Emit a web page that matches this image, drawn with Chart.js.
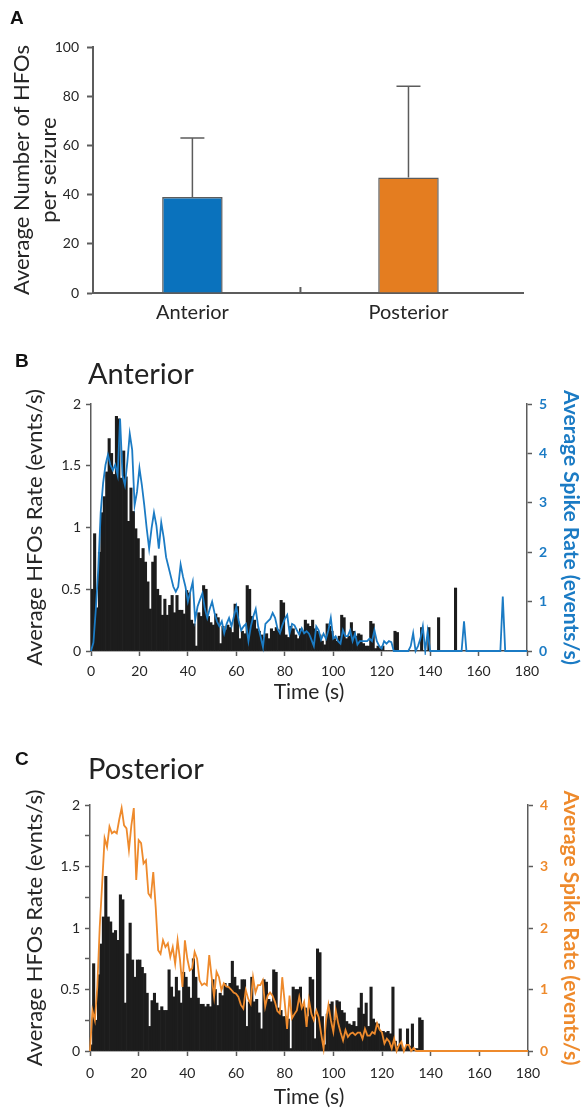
<!DOCTYPE html>
<html>
<head>
<meta charset="utf-8">
<script src="https://cdn.jsdelivr.net/npm/chart.js@4.4.1/dist/chart.umd.min.js"></script>
<style>
  html, body { margin: 0; padding: 0; background: #fff; }
  #page { position: relative; width: 582px; height: 1111px; overflow: hidden; }
  canvas { position: absolute; left: 0; }
  .letter { position: absolute; font: bold 19px "Liberation Sans", Arial, sans-serif; color: #111; line-height: 19px; }
  .subtitle { position: absolute; font: 29px Lato, sans-serif; color: #222; line-height: 29px; }
</style>
</head>
<body>
<div id="page">
  <canvas id="chartA" width="582" height="340" style="top:0"></canvas>
  <canvas id="chartB" width="582" height="380" style="top:340px"></canvas>
  <canvas id="chartC" width="582" height="391" style="top:720px"></canvas>
  <div class="letter" style="left:10px;top:8px">A</div>
  <div class="letter" style="left:15px;top:351px">B</div>
  <div class="letter" style="left:15px;top:749px">C</div>
  <div class="subtitle" style="left:88px;top:358px">Anterior</div>
  <div class="subtitle" style="left:88px;top:753px">Posterior</div>
</div>
<script>
// Panel A — mean HFOs per seizure
const regions = ['Anterior', 'Posterior'];
const meanHFOs = [39, 47];
const sdHFOs = [24, 37];

// Panels B/C — per-second histogram of HFO rate (left axis) and spike rate line (right axis)
const hfoAnterior = [
  0.50, 0.95, 0.35, 0.80, 1.12, 1.25, 1.45, 1.72, 1.60, 1.43,
  1.90, 1.88, 1.40, 1.62, 1.41, 1.05, 1.32, 1.13, 0.99, 0.91,
  0.75, 0.83, 0.72, 0.56, 0.34, 0.72, 0.77, 0.50, 0.45, 0.29,
  0.42, 0.29, 0.37, 0.45, 0.31, 0.45, 0.33, 0.33, 0.30, 0.49,
  0.47, 0.25, 0.22, 0.04, 0.31, 0.28, 0.53, 0.50, 0.28, 0.23,
  0.21, 0.30, 0.27, 0.06, 0.20, 0.17, 0.21, 0.19, 0.15, 0.38,
  0.36, 0.10, 0.16, 0.14, 0.53, 0.50, 0.28, 0.25, 0.18, 0.16,
  0.13, 0.11, 0.14, 0.10, 0.18, 0.16, 0.19, 0.17, 0.41, 0.39,
  0.13, 0.11, 0.20, 0.18, 0.13, 0.10, 0.18, 0.16, 0.25, 0.22,
  0.20, 0.25, 0.18, 0.16, 0.13, 0.08, 0.05, 0.22, 0.20, 0.16,
  0.10, 0.08, 0.12, 0.29, 0.27, 0.10, 0.12, 0.23, 0.16, 0.12,
  0.14, 0.13, 0.06, 0.04, 0.04, 0.24, 0.22, 0.02, 0.04, 0.02,
  0.04, 0, 0, 0, 0, 0.16, 0.15, 0, 0, 0,
  0, 0, 0, 0, 0, 0, 0.19, 0, 0, 0.19,
  0, 0, 0, 0.27, 0, 0, 0, 0, 0, 0,
  0.51, 0, 0, 0, 0, 0, 0, 0, 0, 0,
  0, 0, 0, 0, 0, 0, 0, 0, 0, 0,
  0, 0, 0, 0, 0, 0, 0, 0, 0, 0
];
const spikeAnterior = [
  0, 0.17, 0.85, 1.66, 2.80, 3.40, 3.77, 3.97, 3.77, 3.66,
  3.77, 3.56, 4.70, 3.56, 3.36, 3.83, 4.40, 4.07, 2.95, 3.22,
  3.70, 3.36, 2.95, 2.48, 2.07, 2.48, 2.80, 2.54, 2.07, 2.60,
  2.30, 1.90, 1.70, 1.50, 1.30, 1.20, 1.30, 1.75, 1.50, 1.30,
  1.00, 1.20, 1.40, 0.63, 0.90, 1.04, 1.17, 0.86, 0.67, 0.85,
  1.00, 0.77, 0.60, 0.50, 0.60, 0.36, 0.55, 0.67, 0.50, 0.70,
  0.90, 0.60, 0.42, 0.50, 0.55, 0.20, 0.50, 0.70, 0.85, 0.50,
  0.30, 0.08, 0.55, 0.60, 0.65, 0.77, 0.67, 0.45, 0.36, 0.52,
  0.65, 0.73, 0.36, 0.55, 0.52, 0.42, 0.33, 0.46, 0.36, 0.40,
  0.35, 0.23, 0.10, 0.50, 0.42, 0.23, 0.35, 0.25, 0.42, 0.67,
  0.25, 0.30, 0.20, 0.15, 0.42, 0.30, 0.30, 0.42, 0.20, 0.35,
  0.13, 0.20, 0.20, 0.20, 0.20, 0.25, 0.20, 0.42, 0.20, 0.10,
  0.05, 0.20, 0.15, 0.20, 0.18, 0, 0, 0, 0, 0,
  0, 0, 0.10, 0.36, 0, 0.10, 0.25, 0.50, 0, 0.40,
  0, 0, 0, 0, 0, 0, 0, 0, 0, 0,
  0, 0, 0, 0, 0.60, 0, 0, 0, 0, 0,
  0, 0, 0, 0, 0, 0, 0, 0, 0, 0,
  1.10, 0, 0, 0, 0, 0, 0, 0, 0, 0,
  0
];
const hfoPosterior = [
  0.05, 0.71, 0.25, 0.62, 0.87, 1.09, 1.42, 1.09, 1.05, 0.96,
  0.98, 0.90, 1.27, 1.23, 0.39, 0.79, 1.04, 0.74, 0.60, 0.74,
  0.74, 0.68, 0.63, 0.47, 0.20, 0.41, 0.47, 0.39, 0.33, 0.36,
  0.33, 0.33, 0.66, 0.52, 0.44, 0.60, 0.49, 0.39, 0.64, 0.60,
  0.52, 0.43, 0.75, 0.60, 0.43, 0.38, 0.38, 0.36, 0.38, 0.36,
  0.58, 0.50, 0.37, 0.47, 0.45, 0.55, 0.52, 0.55, 0.73, 0.60,
  0.53, 0.50, 0.58, 0.58, 0.20, 0.40, 0.60, 0.40, 0.42, 0.31,
  0.18, 0.58, 0.56, 0.42, 0.40, 0.66, 0.64, 0.35, 0.33, 0.28,
  0.28, 0.26, 0.02, 0.52, 0.50, 0.50, 0.52, 0.37, 0.35, 0.28,
  0.60, 0.58, 0.10, 0.83, 0.80, 0.28, 0.05, 0.30, 0.38, 0.40,
  0.25, 0.41, 0.40, 0.33, 0.31, 0.24, 0.22, 0.21, 0.24, 0.20,
  0.35, 0.47, 0.30, 0.39, 0.20, 0.52, 0.26, 0.23, 0.22, 0.16,
  0.16, 0.15, 0.16, 0.14, 0.52, 0.08, 0.04, 0.18, 0.02, 0.02,
  0.18, 0.04, 0.22, 0.02, 0.02, 0.27, 0.25, 0, 0, 0,
  0, 0, 0, 0, 0, 0, 0, 0, 0, 0,
  0, 0, 0, 0, 0, 0, 0, 0, 0, 0,
  0, 0, 0, 0, 0, 0, 0, 0, 0, 0,
  0, 0, 0, 0, 0, 0, 0, 0, 0, 0
];
const spikePosterior = [
  0, 0.66, 0.50, 1.04, 2.02, 2.72, 3.46, 3.32, 3.65, 3.54,
  3.57, 3.54, 3.76, 3.95, 3.67, 3.62, 3.27, 3.67, 3.95, 2.78,
  3.43, 3.38, 3.05, 3.10, 2.56, 2.50, 2.91, 2.34, 1.64, 1.58,
  1.80, 1.69, 1.75, 1.53, 1.69, 1.42, 1.80, 1.48, 1.04, 1.80,
  1.50, 1.31, 1.34, 1.61, 1.50, 1.15, 1.07, 1.10, 1.07, 1.56,
  1.20, 0.88, 1.29, 1.20, 0.99, 1.10, 1.05, 1.04, 1.00, 0.95,
  0.93, 0.88, 0.75, 0.69, 0.99, 0.85, 0.77, 1.20, 0.95, 1.07,
  1.07, 1.15, 0.72, 0.90, 0.95, 0.90, 0.80, 0.65, 0.61, 1.20,
  0.80, 0.36, 0.90, 0.53, 0.60, 0.66, 0.88, 0.70, 0.80, 0.39,
  0.83, 0.60, 0.50, 0.66, 0.55, 0.28, 0.04, 0.50, 0.75, 0.50,
  0.31, 0.66, 0.45, 0.30, 0.17, 0.34, 0.23, 0.28, 0.30, 0.26,
  0.30, 0.30, 0.20, 0.36, 0.25, 0.25, 0.31, 0.28, 0.45, 0.35,
  0.30, 0.12, 0.20, 0.15, 0.04, 0.20, 0, 0.10, 0.15, 0,
  0.10, 0.10, 0, 0.05, 0, 0, 0, 0, 0, 0,
  0, 0, 0, 0, 0, 0, 0, 0, 0, 0,
  0, 0, 0, 0, 0, 0, 0, 0, 0, 0,
  0, 0, 0, 0, 0, 0, 0, 0, 0, 0,
  0, 0, 0, 0, 0, 0, 0, 0, 0, 0,
  0
];

const FONT = 'Lato, "Open Sans", sans-serif';
const TEXT = '#262626';
const AXIS = '#5c5c5c';
const BLUE = '#1b7bc4';
const ORANGE = '#ee8a2c';

// error bar (mean + SD) and the small divider tick between categories
const errorBars = {
  id: 'errorBars',
  afterDatasetsDraw(chart) {
    const { ctx, scales: { x, y } } = chart;
    ctx.save();
    ctx.strokeStyle = AXIS;
    ctx.lineWidth = 1.5;
    meanHFOs.forEach((m, i) => {
      const px = x.getPixelForValue(i);
      const yTop = y.getPixelForValue(m + sdHFOs[i]);
      ctx.beginPath();
      ctx.moveTo(px, y.getPixelForValue(m));
      ctx.lineTo(px, yTop);
      ctx.moveTo(px - 12, yTop);
      ctx.lineTo(px + 12, yTop);
      ctx.stroke();
    });
    const mid = x.getPixelForValue(0.5);
    ctx.lineWidth = 2;
    ctx.beginPath();
    ctx.moveTo(mid, y.bottom);
    ctx.lineTo(mid, y.bottom - 6);
    ctx.stroke();
    ctx.restore();
  }
};

new Chart(document.getElementById('chartA'), {
  type: 'bar',
  data: {
    datasets: [{
      data: meanHFOs.map((m, i) => ({ x: i, y: m })),
      backgroundColor: ['#0a72bd', '#e47d20'],
      borderColor: AXIS,
      borderWidth: 1.5,
      borderSkipped: 'bottom',
      barPercentage: 0.28,
      categoryPercentage: 1
    }]
  },
  options: {
    responsive: false,
    animation: false,
    layout: { padding: { top: 47, right: 59 } },
    plugins: { legend: { display: false }, tooltip: { enabled: false } },
    scales: {
      x: {
        type: 'linear', min: -0.46, max: 1.53, offset: false,
        grid: { display: false, drawTicks: false },
        border: { color: AXIS, width: 2 },
        afterBuildTicks: s => { s.ticks = regions.map((r, i) => ({ value: i })); },
        ticks: { color: TEXT, font: { family: FONT, size: 20 }, padding: 8, callback: v => regions[v] },
        afterFit: s => { s.height = 47; }
      },
      y: {
        min: 0, max: 100,
        ticks: { stepSize: 20, color: TEXT, font: { family: FONT, size: 14 }, padding: 8 },
        grid: { drawOnChartArea: false, tickLength: 6, tickColor: AXIS, tickWidth: 2 },
        border: { color: AXIS, width: 2 },
        title: {
          display: true,
          text: ['Average Number of HFOs', 'per seizure'],
          color: TEXT,
          font: { family: FONT, size: 22, lineHeight: 1.2 },
          padding: { top: 9, bottom: 0 }
        },
        afterFit: s => { s.width = 93; }
      }
    }
  },
  plugins: [errorBars]
});

function makeTrace(id, hfo, spike, o) {
  return new Chart(document.getElementById(id), {
    type: 'bar',
    data: {
      datasets: [
        {
          type: 'line',
          data: spike.map((v, i) => ({ x: i, y: v })),
          yAxisID: 'y1',
          borderColor: o.color,
          borderWidth: 1.8,
          pointRadius: 0,
          tension: 0,
          clip: 4,
          order: 0
        },
        {
          type: 'bar',
          data: hfo.map((v, i) => ({ x: i + 0.5, y: v })),
          yAxisID: 'y',
          backgroundColor: '#1c1c1c',
          barPercentage: 1,
          categoryPercentage: 1,
          order: 1
        }
      ]
    },
    options: {
      responsive: false,
      animation: false,
      layout: { padding: { top: o.top, left: 0, right: 0, bottom: 0 } },
      plugins: { legend: { display: false }, tooltip: { enabled: false } },
      scales: {
        x: {
          type: 'linear', min: 0, max: 180, offset: false,
          ticks: { stepSize: 20, color: TEXT, font: { family: FONT, size: 14 }, padding: o.xPad, maxRotation: 0 },
          grid: { drawOnChartArea: false, offset: false, tickLength: 5, tickColor: AXIS, tickWidth: 1.5 },
          border: { color: AXIS, width: 1.5 },
          title: { display: true, text: 'Time (s)', color: TEXT, font: { family: FONT, size: 21, lineHeight: 1.1 }, padding: { top: 0, bottom: o.titlePad } },
          afterFit: s => { s.height = o.xHeight; }
        },
        y: {
          position: 'left', min: 0, max: 2,
          ticks: {
            stepSize: o.leftStep, color: TEXT, font: { family: FONT, size: 14 }, padding: 5,
            callback: v => (v * 2) % 1 === 0 ? v : ''
          },
          grid: { drawOnChartArea: false, tickLength: 5, tickColor: AXIS, tickWidth: 1.5 },
          border: { color: AXIS, width: 1.5 },
          title: { display: true, text: 'Average HFOs Rate (evnts/s)', color: TEXT, font: { family: FONT, size: 22, lineHeight: 1.1 }, padding: { top: 23, bottom: 0 } },
          afterFit: s => { s.width = o.left; }
        },
        y1: {
          position: 'right', min: 0, max: o.spikeMax,
          ticks: { stepSize: 1, color: o.color, font: { family: FONT, size: 14, weight: 'bold' }, padding: 7 },
          grid: { drawOnChartArea: false, tickLength: 5, tickColor: AXIS, tickWidth: 1.5 },
          border: { color: AXIS, width: 1.5 },
          title: { display: true, text: 'Average Spike Rate (events/s)', color: o.color, font: { family: FONT, size: 21, weight: 'bold', lineHeight: 1.1 }, padding: { top: 0, bottom: 0 } },
          afterFit: s => { s.width = 582 - o.right; }
        }
      }
    }
  });
}

makeTrace('chartB', hfoAnterior, spikeAnterior, {
  color: BLUE, spikeMax: 5, leftStep: 0.5,
  top: 64, left: 91, right: 527, xHeight: 69, xPad: 7, titlePad: 16
});
makeTrace('chartC', hfoPosterior, spikePosterior, {
  color: ORANGE, spikeMax: 4, leftStep: 0.25,
  top: 85, left: 90, right: 528, xHeight: 60, xPad: 9, titlePad: 2
});
</script>
</body>
</html>
